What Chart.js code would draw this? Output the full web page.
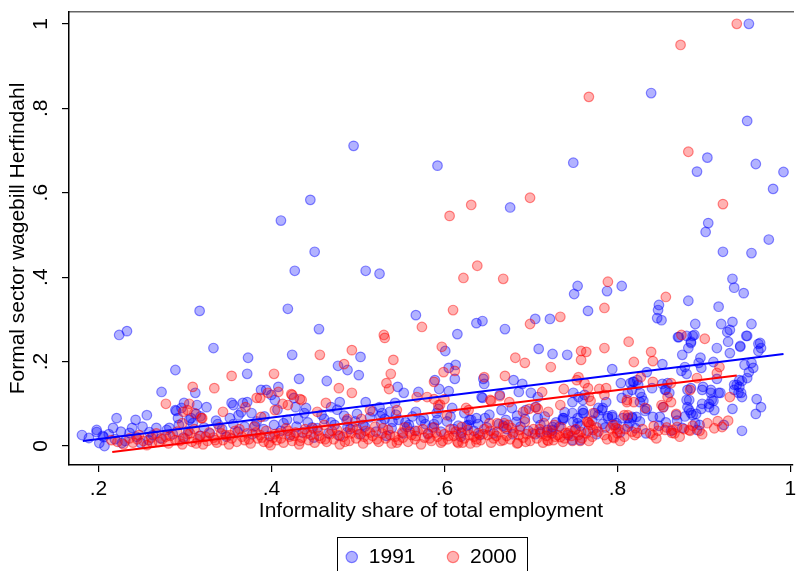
<!DOCTYPE html>
<html>
<head>
<meta charset="utf-8">
<script src="https://cdn.jsdelivr.net/npm/chart.js@4.4.0/dist/chart.umd.min.js"></script>
<style>
html, body { margin: 0; padding: 0; background: #fff; overflow: hidden; }
#wrap { width: 799px; height: 571px; }
</style>
</head>
<body>
<div id="wrap"><canvas id="chart" width="799" height="571"></canvas></div>
<script>
// 1991 points [informality share, wagebill Herfindahl]
const points1991 = [
  [.952,1.0],[.839,.836],[.950,.770],[.495,.711],[.904,.683],[.960,.668],[.749,.671],[.592,.664],[.892,.650],[.992,.649],
  [.980,.609],[.445,.583],[.676,.565],[.411,.534],[.905,.528],[.902,.507],[.975,.489],[.450,.460],[.922,.460],[.955,.457],
  [.427,.415],[.509,.415],[.525,.408],[.933,.396],[.754,.379],[.805,.379],[.935,.375],[.788,.367],[.946,.362],[.750,.360],
  [.882,.344],[.848,.334],[.917,.330],[.317,.320],[.419,.325],[.847,.322],[.766,.320],[.567,.310],[.846,.303],[.705,.301],
  [.722,.301],[.851,.298],[.644,.296],[.933,.294],[.637,.291],[.890,.289],[.920,.289],[.955,.289],[.455,.277],[.670,.277],
  [.233,.272],[.930,.275],[.927,.270],[.224,.263],[.615,.265],[.887,.261],[.950,.261],[.871,.258],[.885,.247],[.928,.247],
  [.965,.244],[.333,.232],[.882,.232],[.915,.232],[.966,.232],[.601,.225],[.942,.235],[.963,.225],[.709,.230],[.930,.220],
  [.725,.218],[.742,.216],[.875,.216],[.424,.216],[.373,.209],[.503,.211],[.896,.209],[.894,.197],[.911,.199],[.955,.197],
  [.852,.194],[.947,.192],[.613,.192],[.477,.190],[.878,.187],[.605,.185],[.897,.185],[.957,.185],[.794,.182],[.289,.180],
  [.488,.180],[.874,.178],[.834,.175],[.952,.175],[.372,.171],[.880,.171],[.501,.168],[.915,.159],[.950,.161],[.432,.159],
  [.645,.159],[.612,.159],[.589,.156],[.680,.156],[.464,.154],[.944,.154],[.819,.152],[.815,.149],[.804,.149],[.852,.147],
  [.646,.147],[.690,.147],[.938,.145],[.824,.145],[.546,.140],[.408,.140],[.899,.140],[.840,.137],[.885,.137],[.594,.135],
  [.388,.133],[.394,.133],[.817,.133],[.935,.133],[.856,.133],[.605,.130],[.553,.126],[.312,.126],[.273,.128],[.570,.128],
  [.686,.128],[.940,.126],[.919,.126],[.908,.126],[.749,.126],[.812,.126],[.700,.126],[.708,.116],[.643,.116],[.755,.116],
  [.828,.116],[.400,.121],[.664,.121],[.762,.121],[.644,.114],[.805,.114],[.426,.114],[.961,.111],[.760,.109],[.883,.109],
  [.404,.109],[.911,.107],[.543,.102],[.509,.104],[.479,.104],[.372,.104],[.367,.102],[.354,.102],[.299,.102],[.826,.104],
  [.748,.104],[.787,.104],[.906,.100],[.898,.100],[.356,.097],[.314,.097],[.525,.092],[.469,.092],[.428,.092],[.325,.092],
  [.705,.092],[.853,.092],[.881,.092],[.966,.092],[.609,.090],[.678,.090],[.440,.090],[.296,.090],[.778,.090],[.783,.090],
  [.933,.088],[.593,.088],[.694,.085],[.666,.085],[.290,.083],[.289,.085],[.567,.081],[.537,.081],[.528,.078],[.591,.078],
  [.748,.078],[.760,.078],[.774,.078],[.885,.078],[.377,.078],[.313,.076],[.891,.076],[.960,.076],[.256,.073],[.362,.073],
  [.526,.071],[.789,.071],[.794,.069],[.817,.069],[.841,.069],[.307,.066],[.292,.066],[.221,.066],[.576,.066],[.637,.066],
  [.647,.066],[.708,.066],[.737,.066],[.806,.066],[.243,.062],[.629,.062],[.631,.062],[.671,.062],[.540,.057],[.683,.057],
  [.754,.054],[.783,.052],[.799,.054],[.814,.054],[.890,.054],[.923,.050],[.628,.050],[.588,.052],[.488,.045],[.557,.045],
  [.217,.043],[.239,.043],[.267,.043],[.282,.043],[.875,.043],[.198,.038],[.751,.038],[.725,.038],[.892,.038],[.944,.036],
  [.198,.033],[.259,.033],[.236,.031],[.620,.031],[.705,.028],[.181,.026],[.205,.024],[.206,.021],[.189,.019],[.258,.014],
  [.201,.007],[.227,.007],[.249,.007],[.207,.000],
  [.870,.258],[.880,.261],[.889,.263],[.885,.244],[.942,.237],[.949,.261],[.963,.242],[.818,.152],[.823,.156],[.826,.126],
  [.830,.107],[.834,.088],[.832,.083],[.858,.149],[.855,.133],[.860,.126],[.881,.133],[.880,.109],[.883,.085],[.887,.073],
  [.898,.133],[.908,.133],[.917,.126],[.909,.109],[.906,.092],[.912,.085],[.897,.088],[.941,.156],[.935,.145],[.941,.140],
  [.944,.116],[.943,.126],[.895,.050],[.849,.069],[.868,.073],[.812,.066],[.817,.066],[.822,.069],[.797,.050],[.789,.066],
  [.794,.073],[.782,.085],[.778,.073],[.761,.078],[.760,.085],[.754,.066],[.749,.057],[.738,.066],[.737,.062],[.725,.045],
  [.719,.038],[.711,.033],[.748,.014],[.757,.014],
  [.212,.028],[.219,.016],[.226,.034],[.231,.012],[.244,.022],[.251,.046],[.263,.026],[.272,.018],[.279,.038],[.286,.028],
  [.293,.050],[.298,.020],[.304,.036],[.309,.054],[.317,.024],[.322,.044],[.329,.030],[.336,.060],[.343,.040],[.348,.022],
  [.356,.052],[.361,.034],[.369,.046],[.378,.028],[.383,.058],[.391,.040],[.398,.024],[.403,.050],[.411,.036],[.418,.062],
  [.422,.026],[.429,.046],[.436,.032],[.442,.056],[.449,.020],[.453,.042],[.461,.064],[.466,.030],[.473,.050],[.479,.024],
  [.484,.072],[.491,.040],[.497,.058],[.503,.028],[.508,.046],[.514,.068],[.521,.034],[.527,.054],[.533,.024],[.539,.042],
  [.547,.062],[.552,.030],[.559,.050],[.566,.036],[.573,.060],[.581,.028],[.586,.044],[.596,.034],[.603,.058],[.611,.040],
  [.619,.022],[.626,.048],[.634,.036],[.641,.026],[.649,.044],[.657,.030],[.663,.052],[.672,.040],[.679,.028],[.688,.046],
  [.697,.036],[.711,.050],[.724,.030],[.733,.046],[.743,.026],[.757,.048],[.766,.036],[.776,.028],[.786,.044],[.803,.032],
  [.821,.042],[.833,.030],[.848,.048],[.862,.036],[.869,.060],[.878,.070],
  [.305,.062],[.318,.070],[.338,.052],[.352,.066],[.365,.080],[.381,.048],[.392,.070],[.407,.086],[.414,.054],[.431,.064],
  [.438,.078],[.447,.044],[.458,.074],[.469,.056],[.476,.086],[.487,.060],[.499,.076],[.506,.050],[.517,.082],[.531,.064],
  [.544,.074],[.555,.056],[.563,.070],[.578,.052],[.592,.062],[.607,.070],[.616,.048],[.623,.078],[.639,.052],[.652,.074],
  [.668,.048],[.684,.072],[.693,.064],[.716,.070],[.729,.056],[.739,.080],[.771,.060],[.812,.046],[.826,.058],[.856,.056]
];

// 2000 points
const points2000 = [
  [.938,1.0],[.873,.950],[.767,.827],[.882,.697],[.699,.588],[.922,.573],[.631,.571],[.606,.545],[.638,.427],[.574,.282],
  [.622,.398],[.668,.396],[.789,.389],[.856,.353],[.610,.322],[.785,.327],[.734,.306],[.699,.289],[.530,.263],[.531,.256],
  [.874,.263],[.901,.254],[.813,.247],[.597,.235],[.785,.232],[.493,.227],[.839,.223],[.764,.223],[.758,.225],[.456,.216],
  [.682,.209],[.541,.204],[.841,.201],[.819,.199],[.758,.204],[.693,.197],[.484,.194],[.918,.187],[.723,.187],[.599,.175],
  [.612,.178],[.915,.173],[.354,.166],[.403,.171],[.538,.171],[.670,.166],[.827,.163],[.755,.163],[.646,.163],[.892,.161],
  [.588,.152],[.753,.156],[.841,.152],[.533,.149],[.762,.149],[.862,.149],[.309,.140],[.334,.137],[.478,.137],[.536,.135],
  [.787,.137],[.766,.137],[.779,.135],[.738,.135],[.884,.133],[.396,.126],[.493,.126],[.713,.128],[.408,.128],[.423,.123],
  [.424,.121],[.785,.121],[.568,.116],[.580,.116],[.767,.116],[.858,.116],[.930,.116],[.664,.118],[.387,.114],[.383,.114],
  [.433,.111],[.435,.109],[.600,.111],[.588,.111],[.653,.109],[.654,.107],[.305,.100],[.278,.100],[.413,.100],[.463,.102],
  [.675,.104],[.811,.104],[.862,.104],[.419,.097],[.593,.097],[.734,.097],[.851,.097],[.595,.098],[.370,.092],[.706,.092],
  [.832,.090],[.625,.090],[.303,.085],[.404,.085],[.514,.085],[.545,.085],[.628,.085],[.698,.088],[.708,.088],[.344,.081],
  [.298,.081],[.453,.081],[.691,.081],[.720,.081],[.311,.078],[.868,.076],[.603,.073],[.388,.069],[.319,.066],[.320,.066],
  [.504,.064],[.488,.064],[.297,.054],[.661,.054],[.669,.054],[.652,.054],[.715,.054],[.767,.054],[.904,.054],[.674,.050],
  [.727,.050],[.795,.050],[.916,.059],[.765,.057],[.693,.057],[.921,.045],[.842,.047],[.620,.045],[.758,.033],[.772,.038],
  [.809,.040],[.801,.040],[.855,.038],[.864,.038],[.823,.031],[.863,.031],[.884,.036],[.898,.028],[.841,.026],[.796,.019],
  [.748,.012],[.720,.012],[.215,.014],[.685,.007],[.637,.009],[.616,.007],
  [.769,.107],[.811,.109],[.819,.104],[.853,.092],[.869,.045],[.883,.038],[.808,.073],[.812,.073],[.772,.078],[.766,.057],
  [.769,.050],[.795,.021],[.798,.043],[.734,.021],[.740,.031],[.719,.014],[.757,.012],
  [.222,.010],[.229,.004],[.236,.018],[.240,.008],[.247,.026],[.252,.012],[.256,.002],[.261,.020],[.267,.030],[.270,.010],
  [.274,.016],[.281,.006],[.283,.024],[.289,.014],[.291,.034],[.297,.004],[.300,.018],[.303,.028],[.308,.010],[.311,.040],
  [.315,.016],[.318,.024],[.321,.004],[.326,.012],[.328,.032],[.333,.020],[.337,.008],[.340,.044],[.344,.014],[.347,.026],
  [.351,.004],[.354,.018],[.358,.036],[.360,.010],[.366,.022],[.369,.014],[.372,.030],[.376,.006],[.380,.046],[.384,.018],
  [.387,.026],[.391,.010],[.394,.036],[.399,.002],[.402,.020],[.406,.014],[.409,.030],[.414,.008],[.417,.042],[.421,.022],
  [.424,.012],[.428,.032],[.432,.004],[.435,.020],[.439,.040],[.443,.014],[.446,.026],[.450,.008],[.454,.036],[.457,.018],
  [.461,.050],[.464,.010],[.468,.028],[.472,.016],[.476,.038],[.479,.004],[.483,.022],[.487,.032],[.490,.012],[.494,.044],
  [.498,.018],[.501,.028],[.506,.006],[.509,.036],[.512,.016],[.517,.024],[.520,.046],[.524,.010],[.528,.030],[.532,.018],
  [.535,.038],[.539,.006],[.543,.022],[.547,.014],[.551,.032],[.554,.044],[.558,.010],[.562,.026],[.566,.016],[.569,.036],
  [.573,.004],[.577,.020],[.581,.030],[.585,.012],[.588,.044],[.592,.022],[.596,.008],[.600,.028],[.604,.016],[.607,.040],
  [.611,.024],[.615,.010],[.619,.032],[.623,.018],[.627,.038],[.630,.006],[.634,.022],[.639,.030],[.642,.014],[.646,.040],
  [.650,.026],[.654,.008],[.657,.018],[.661,.034],[.665,.012],[.669,.044],[.672,.024],[.676,.016],[.680,.032],[.684,.006],
  [.687,.038],[.691,.020],[.695,.028],[.699,.012],[.703,.040],[.707,.018],[.711,.030],[.714,.008],[.718,.024],[.723,.036],
  [.726,.014],[.731,.026],[.735,.044],[.739,.018],[.743,.030],[.747,.024],[.752,.040],[.759,.018],[.764,.030],[.771,.022],
  [.778,.034],[.785,.026],[.792,.042],[.800,.030],[.808,.022],[.817,.034],[.829,.040],[.838,.030],[.847,.036],[.857,.044],
  [.866,.030],[.877,.040],[.887,.048],[.895,.036],[.912,.042],[.928,.060],
  [.245,.016],[.262,.008],[.278,.022],[.294,.012],[.306,.030],[.313,.006],[.324,.022],[.335,.014],[.342,.030],[.352,.026],
  [.363,.040],[.374,.016],[.382,.032],[.389,.020],[.397,.008],[.404,.028],[.411,.018],[.419,.036],[.426,.024],[.433,.012],
  [.441,.030],[.448,.042],[.455,.024],[.462,.016],[.470,.036],[.477,.026],[.485,.010],[.492,.030],[.499,.040],[.507,.022],
  [.514,.032],[.522,.016],[.529,.042],[.537,.026],[.545,.008],[.552,.020],[.560,.034],[.567,.024],[.575,.040],[.583,.018],
  [.590,.032],[.598,.012],[.605,.024],[.613,.034],[.621,.008],[.629,.026],[.637,.016],[.645,.028],[.653,.036],[.660,.024],
  [.668,.014],[.678,.042],[.686,.026],[.694,.010],[.702,.030],[.710,.040],[.719,.032],[.728,.022],[.737,.010],[.746,.036],
  [.755,.026],[.767,.012],[.776,.044],[.788,.016],[.803,.012],[.820,.026],[.845,.018],[.872,.022]
];

// linear fits, end points
const fit1991X = [0.182, 0.992];
const fit1991Y = [0.012, 0.218];
const fit2000X = [0.216, 0.938];
const fit2000Y = [-0.014, 0.167];

const xTicks = [0.2, 0.4, 0.6, 0.8, 1];
const xTickLabels = ['.2', '.4', '.6', '.8', '1'];
const yTicks = [0, 0.2, 0.4, 0.6, 0.8, 1];
const yTickLabels = ['0', '.2', '.4', '.6', '.8', '1'];

const FONT = "'Liberation Sans', Arial, Helvetica, sans-serif";
Chart.defaults.font.family = FONT;
Chart.defaults.font.size = 21;
Chart.defaults.color = '#000';

function toXY(arr) {
    return arr.map(p => ({ x: p[0], y: p[1] }));
}
function fitLine(xs, ys) {
    return xs.map((x, i) => ({ x: x, y: ys[i] }));
}
function tickLabel(ticks, labels, v) {
    let i = ticks.findIndex(t => Math.abs(t - v) < 1e-9);
    return i >= 0 ? labels[i] : '';
}
function noPad(s) {
    s.paddingTop = 0; s.paddingBottom = 0; s.paddingLeft = 0; s.paddingRight = 0;
}

// box round the legend, like the Stata one
const legendBox = {
    id: 'legendBox',
    afterDraw(chart) {
        const lg = chart.legend;
        if (!lg || !lg.legendHitBoxes || !lg.legendHitBoxes.length) return;
        const hb = lg.legendHitBoxes;
        const last = hb[hb.length - 1];
        const l = hb[0].left - 8;
        const r = last.left + last.width + 11;
        const t = hb[0].top - 9.5;
        const c = chart.ctx;
        c.save();
        c.strokeStyle = '#000';
        c.lineWidth = 1;
        c.strokeRect(Math.round(l) + 0.5, Math.round(t) + 0.5, Math.round(r - l), 60);
        c.restore();
    }
};

const ctx = document.getElementById('chart').getContext('2d');
new Chart(ctx, {
    type: 'scatter',
    data: {
        datasets: [
            {
                label: '1991',
                data: toXY(points1991),
                backgroundColor: 'rgba(0,0,255,0.3)',
                borderColor: 'rgba(0,0,255,0.45)',
                borderWidth: 1.2,
                pointRadius: 4.8,
                pointHoverRadius: 4.8,
                order: 4
            },
            {
                label: '2000',
                data: toXY(points2000),
                backgroundColor: 'rgba(255,0,0,0.3)',
                borderColor: 'rgba(255,0,0,0.45)',
                borderWidth: 1.2,
                pointRadius: 4.8,
                pointHoverRadius: 4.8,
                order: 3
            },
            {
                label: 'fit 1991',
                type: 'line',
                data: fitLine(fit1991X, fit1991Y),
                borderColor: '#0000ff',
                borderWidth: 2,
                pointRadius: 0,
                fill: false,
                order: 2
            },
            {
                label: 'fit 2000',
                type: 'line',
                data: fitLine(fit2000X, fit2000Y),
                borderColor: '#ff0000',
                borderWidth: 2,
                pointRadius: 0,
                fill: false,
                order: 1
            }
        ]
    },
    options: {
        responsive: false,
        animation: false,
        layout: { padding: { left: 0, right: 0, top: 0, bottom: -6.5 } },
        plugins: {
            legend: {
                position: 'bottom',
                fullSize: false,
                labels: {
                    usePointStyle: true,
                    boxWidth: 13,
                    boxHeight: 8,
                    padding: 31,
                    color: '#000',
                    font: { size: 21 },
                    filter: item => item.datasetIndex < 2,
                    sort: (a, b) => a.datasetIndex - b.datasetIndex
                }
            },
            tooltip: { enabled: false }
        },
        scales: {
            x: {
                type: 'linear',
                position: 'bottom',
                min: 0.166,
                max: 1.003,
                afterBuildTicks: s => { s.ticks = xTicks.map(v => ({ value: v })); },
                afterFit: s => { s.height = 50.5; noPad(s); },
                ticks: {
                    autoSkip: false,
                    maxRotation: 0,
                    padding: 5,
                    color: '#000',
                    callback: v => tickLabel(xTicks, xTickLabels, v)
                },
                grid: { drawOnChartArea: false, drawTicks: true, tickLength: 7, color: '#000', lineWidth: 1.2 },
                border: { color: '#000', width: 1.5 },
                title: {
                    display: true,
                    text: 'Informality share of total employment',
                    color: '#000',
                    padding: { top: 0, bottom: -8 }
                }
            },
            x2: {
                type: 'linear',
                position: 'top',
                min: 0.166,
                max: 1.003,
                afterFit: s => { s.height = 12; noPad(s); },
                ticks: { display: false },
                grid: { display: false },
                border: { color: '#666', width: 1.5 }
            },
            y: {
                type: 'linear',
                min: -0.045,
                max: 1.028,
                afterBuildTicks: s => { s.ticks = yTicks.map(v => ({ value: v })); },
                afterFit: s => { s.width = 69; noPad(s); },
                ticks: {
                    minRotation: 90,
                    maxRotation: 90,
                    crossAlign: 'center',
                    padding: 12,
                    color: '#000',
                    callback: v => tickLabel(yTicks, yTickLabels, v)
                },
                grid: { drawOnChartArea: false, drawTicks: true, tickLength: 7, color: '#000', lineWidth: 1.2 },
                border: { color: '#000', width: 1.5 },
                title: {
                    display: true,
                    text: 'Formal sector wagebill Herfindahl',
                    color: '#000',
                    padding: { top: 5.4, bottom: 0 }
                }
            }
        }
    },
    plugins: [legendBox]
});
</script>
</body>
</html>
